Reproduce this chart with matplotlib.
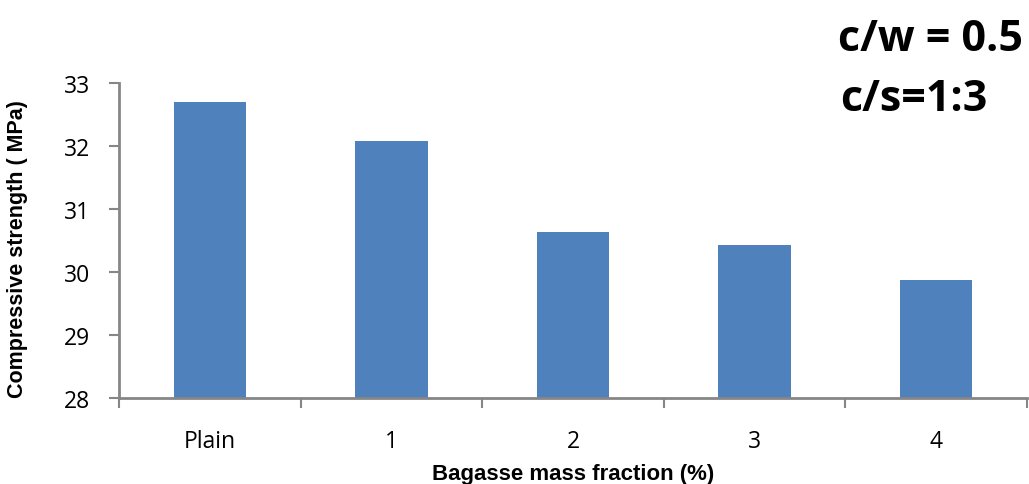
import matplotlib.pyplot as plt

# data
categories = ['Plain', '1', '2', '3', '4']
strength = [32.70, 32.08, 30.63, 30.43, 29.87]

grey = '#868686'
fig = plt.figure(figsize=[10.29, 4.85], dpi=100)
ax = fig.add_axes([0.1157, 0.1773, 0.8823, 0.6495])

x = range(len(categories))
ax.bar(x, strength, width=0.4, color='#4f81bd', zorder=2)

ax.set_ylim(28, 33)
ax.set_xlim(-0.5, len(categories) - 0.5)
ax.set_yticks([28, 29, 30, 31, 32, 33])
ax.set_xticks(list(x))
ax.set_xticklabels(categories, fontname='Open Sans', fontsize=16.5)
for lab in ax.get_yticklabels():
    lab.set_fontname('Open Sans')
    lab.set_fontsize(16.5)

# category ticks sit between bars
ax.set_xticks([i + 0.5 for i in range(-1, len(categories))], minor=True)
ax.tick_params(axis='x', which='major', length=0, pad=22)
ax.tick_params(axis='x', which='minor', length=7, width=1.5, color=grey, direction='out')
ax.tick_params(axis='y', length=7, width=1.5, color=grey, direction='out', pad=14)

for s in ['top', 'right']:
    ax.spines[s].set_visible(False)
for s in ['left', 'bottom']:
    ax.spines[s].set_color(grey)
    ax.spines[s].set_linewidth(2)

ax.set_ylabel('Compressive strength ( MPa)', fontname='Liberation Sans', fontsize=15.5,
              weight='bold')
ax.yaxis.set_label_coords(-0.100, 0.475)
ax.set_xlabel('Bagasse mass fraction (%)', fontname='Liberation Sans', fontsize=16,
              weight='bold')
ax.xaxis.set_label_coords(0.5, -0.205)

fig.text(0.814, 0.918, 'c/w = 0.5', fontname='Open Sans', fontsize=31, weight='bold',
         va='center', ha='left')
fig.text(0.816, 0.795, 'c/s=1:3', fontname='Open Sans', fontsize=31, weight='bold',
         va='center', ha='left')

fig.savefig('out.png', dpi=100)
